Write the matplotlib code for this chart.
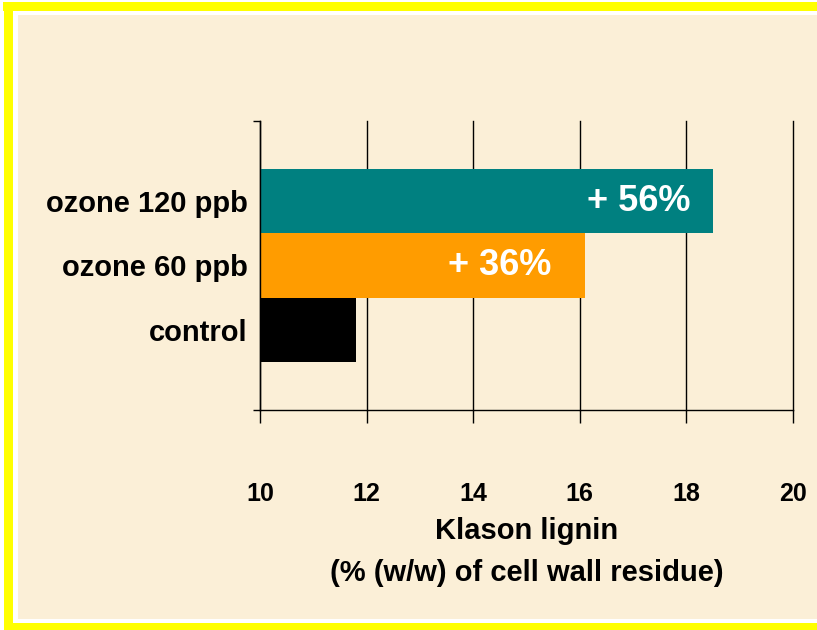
import matplotlib
matplotlib.use("Agg")
import matplotlib.pyplot as plt
from matplotlib.patches import Rectangle

categories = ["control", "ozone 60 ppb", "ozone 120 ppb"]
values = [11.8, 16.1, 18.5]
bar_colors = ["#000000", "#FF9C00", "#008080"]
increase_labels = ["", "+ 36%", "+ 56%"]
x_ticks = [10, 12, 14, 16, 18, 20]

plt.rcParams['font.family'] = ['Liberation Sans', 'DejaVu Sans']
plt.rcParams['font.weight'] = 'bold'

W, H = 817, 630
fig = plt.figure(figsize=(W / 100, H / 100), dpi=100)
fig.patch.set_facecolor("white")

def px_rect(x0, y0, x1, y1, color):
    fig.patches.append(Rectangle((x0 / W, 1 - y1 / H), (x1 - x0) / W, (y1 - y0) / H,
                                 transform=fig.transFigure, facecolor=color,
                                 edgecolor="none", zorder=-10))

# yellow frame and beige panel
px_rect(3, 2, W + 5, 11, "#FFFF00")
px_rect(4, 2, 13, H + 5, "#FFFF00")
px_rect(4, 623, W + 5, H + 5, "#FFFF00")
px_rect(18, 15, W + 5, 619, "#FBEFD7")

ax = fig.add_axes([260 / W, 1 - 410 / H, (793 - 260) / W, (410 - 121) / H])
ax.set_facecolor("none")

pos = list(range(len(categories)))
bars = ax.barh(pos, [v - 10 for v in values], left=10, height=1.0,
               color=bar_colors, zorder=3)

for i, (v, lab) in enumerate(zip(values, increase_labels)):
    if lab:
        off = -16.5 if i == 2 else -24.5
        ax.annotate(lab, xy=(v, i), xytext=(off, 0), textcoords="offset points",
                    ha="right", va="center", color="white", fontsize=26,
                    fontweight="bold", zorder=4)

ax.set_xlim(10, 20)
ax.set_ylim(-1.25, 3.25)

ax.set_xticks(x_ticks)
ax.set_xticklabels([str(t) for t in x_ticks], fontsize=18, fontweight="bold")
ax.tick_params(axis="x", direction="out", length=9.5, width=1.0, pad=42, color="black")
ax.xaxis.grid(True, color="black", linewidth=1.0, zorder=1)
for gl in ax.get_xgridlines():
    gl.set_clip_on(False)

ax.set_yticks([-1.25, 3.25])
ax.set_yticklabels(["", ""])
ax.tick_params(axis="y", which="major", direction="out", length=5, width=1.0)
ax.set_yticks(pos, minor=True)
ax.set_yticklabels(categories, minor=True, fontsize=21, fontweight="bold")
ax.tick_params(axis="y", which="minor", length=0, pad=9)

for s in ["top", "right"]:
    ax.spines[s].set_visible(False)
ax.spines["left"].set_linewidth(1.0)
ax.spines["bottom"].set_linewidth(1.0)
ax.spines["left"].set_zorder(5)

ax.set_xlabel("Klason lignin\n(% (w/w) of cell wall residue)", fontsize=21,
              fontweight="bold", linespacing=1.65, labelpad=8)

fig.savefig("out.png", dpi=100, facecolor=fig.get_facecolor())
